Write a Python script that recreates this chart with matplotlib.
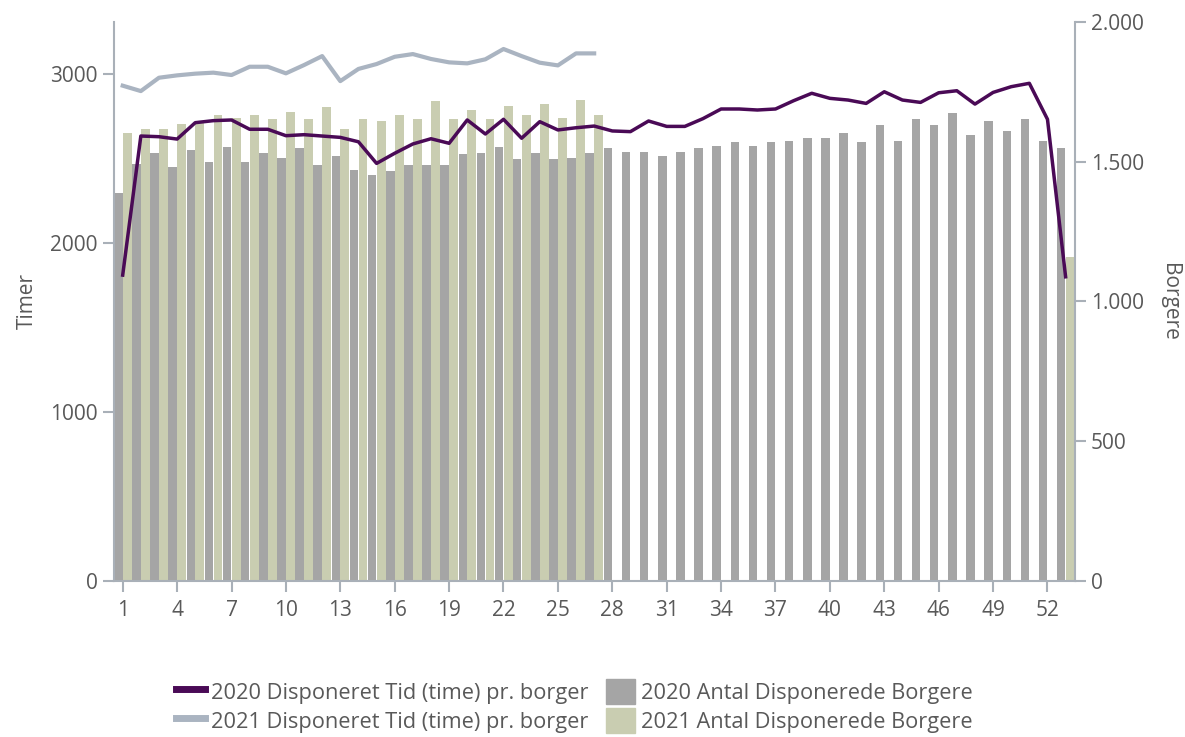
import numpy as np
import matplotlib
matplotlib.use("Agg")
import matplotlib.pyplot as plt
from matplotlib.lines import Line2D
from matplotlib.patches import Patch
from matplotlib.ticker import FuncFormatter

# Data
weeks = np.arange(1, 54)

timer_2020 = [1810, 2633, 2629, 2615, 2712, 2724, 2728, 2673, 2673, 2635,
              2641, 2633, 2625, 2599, 2471, 2531, 2586, 2617, 2590, 2728,
              2645, 2732, 2620, 2718, 2669, 2682, 2692, 2663, 2659, 2722,
              2690, 2690, 2736, 2793, 2793, 2787, 2793, 2842, 2886, 2856,
              2846, 2826, 2895, 2846, 2832, 2889, 2901, 2822, 2891, 2925,
              2945, 2732, 1800]

timer_2021 = [2931, 2899, 2978, 2992, 3002, 3008, 2994, 3043, 3043, 3004,
              3053, 3106, 2958, 3030, 3059, 3102, 3118, 3089, 3069, 3063,
              3087, 3148, 3106, 3067, 3051, 3122, 3122]

borgere_2020 = [1389, 1492, 1532, 1480, 1542, 1499, 1554, 1499, 1532, 1512,
                1549, 1487, 1521, 1471, 1452, 1467, 1487, 1487, 1487, 1529,
                1532, 1554, 1509, 1532, 1509, 1512, 1532, 1550, 1534, 1534,
                1521, 1534, 1550, 1555, 1571, 1555, 1571, 1575, 1584, 1584,
                1604, 1571, 1633, 1575, 1653, 1633, 1674, 1595, 1645, 1611,
                1653, 1575, 1549]

# 2021 only has weeks 1-27 plus week 53
borgere_2021_weeks = list(range(1, 28)) + [53]
borgere_2021 = [1604, 1616, 1616, 1636, 1646, 1666, 1655, 1666, 1654, 1678,
                1654, 1695, 1616, 1654, 1645, 1666, 1654, 1716, 1654, 1686,
                1654, 1700, 1666, 1707, 1658, 1720, 1666, 1160]

labels = ["2020 Disponeret Tid (time) pr. borger",
          "2021 Disponeret Tid (time) pr. borger",
          "2020 Antal Disponerede Borgere",
          "2021 Antal Disponerede Borgere"]

c_2020_line = "#4a0a56"
c_2021_line = "#aab4c1"
c_2020_bar = "#a5a5a5"
c_2021_bar = "#c9cdb1"
c_text = "#595959"
c_axis = "#a9b0b8"

plt.rcParams["font.family"] = ["Open Sans", "DejaVu Sans"]

fig = plt.figure(figsize=(11.85, 7.37), dpi=100)
ax = fig.add_axes([0.0959, 0.2117, 0.811, 0.7585])
ax2 = ax.twinx()

# bars on the right axis (Borgere)
ax2.bar(weeks - 0.245, borgere_2020, width=0.47, color=c_2020_bar, zorder=2)
ax2.bar(np.array(borgere_2021_weeks) + 0.255, borgere_2021, width=0.49,
        color=c_2021_bar, zorder=2)

# lines on the left axis (Timer)
ax.plot(weeks, timer_2020, color=c_2020_line, lw=2.5, zorder=3)
ax.plot(weeks[:len(timer_2021)], timer_2021, color=c_2021_line, lw=3, zorder=3)

ax.set_zorder(ax2.get_zorder() + 1)
ax.patch.set_visible(False)

ax.set_xlim(0.5, 53.5)
ax.set_ylim(0, 3308)
ax2.set_ylim(0, 2000)

ax.set_xticks(np.arange(1, 54, 3))
ax.set_yticks([0, 1000, 2000, 3000])
ax2.set_yticks([0, 500, 1000, 1500, 2000])
ax2.yaxis.set_major_formatter(
    FuncFormatter(lambda v, p: f"{int(v):,}".replace(",", ".")))

for a in (ax, ax2):
    a.spines["top"].set_visible(False)
    for s in ("left", "right", "bottom"):
        a.spines[s].set_color(c_axis)
        a.spines[s].set_linewidth(1.5)
    a.tick_params(colors=c_axis, labelcolor=c_text, labelsize=15,
                  length=8, width=1.5)
ax.spines["right"].set_visible(False)
ax2.spines["left"].set_visible(False)
ax2.spines["bottom"].set_visible(False)
ax.tick_params(axis="x", pad=6)

ax.set_ylabel("Timer", color=c_text, fontsize=15, labelpad=9)
ax2.set_ylabel("Borgere", color=c_text, fontsize=15, rotation=270,
               labelpad=26)

handles = [Line2D([], [], color=c_2020_line, lw=5),
           Line2D([], [], color=c_2021_line, lw=5),
           Patch(color=c_2020_bar),
           Patch(color=c_2021_bar)]
leg = fig.legend(handles, labels, ncol=2, loc="center",
                 bbox_to_anchor=(0.485, 0.042), frameon=False, fontsize=15.7,
                 handlelength=1.3, handleheight=1.4, handletextpad=0.3,
                 columnspacing=0.8, labelspacing=0.2)
for t in leg.get_texts():
    t.set_color(c_text)

fig.savefig("out.png", dpi=100)
